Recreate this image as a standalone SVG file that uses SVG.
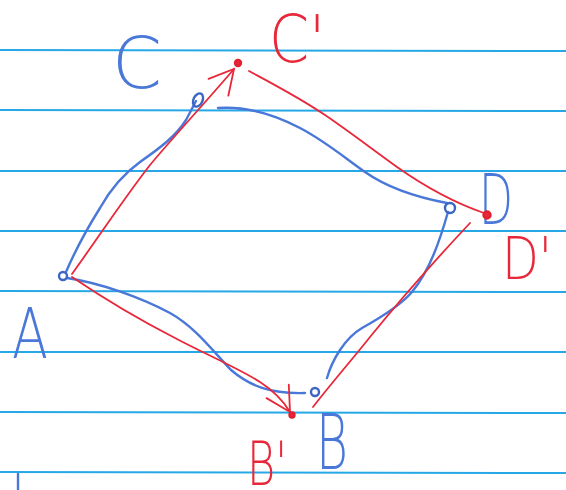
<svg xmlns="http://www.w3.org/2000/svg" width="566" height="490" viewBox="0 0 566 490">
<style>
.rule{stroke:#27a8e6;stroke-width:2;fill:none}
.b{stroke:#4a78d8;stroke-width:2.4;fill:none;stroke-linecap:round;stroke-linejoin:round}
.r{stroke:#e8283a;stroke-width:1.8;fill:none;stroke-linecap:round;stroke-linejoin:round}
.lb{fill:#4a78d8;font-family:"DejaVu Sans","Liberation Sans",sans-serif;font-weight:200;text-anchor:middle}
.lr{fill:#e8283a;font-family:"DejaVu Sans","Liberation Sans",sans-serif;font-weight:200;text-anchor:middle}
.nb{stroke:#3d66c4;stroke-width:2.4;fill:none}
.nr{stroke:#e01f30;stroke-width:2.4;fill:#e8283a}
</style>
<defs>
<marker id="arr" markerUnits="userSpaceOnUse" markerWidth="40" markerHeight="40" refX="0" refY="0" viewBox="-30 -20 40 40" orient="auto">
<path d="M-24,-13 L0,0 L-24,13" fill="none" stroke="#e8283a" stroke-width="1.8" stroke-linecap="round"/>
</marker>
</defs>
<rect width="566" height="490" fill="#ffffff"/>
<g id="paper">
<line class="rule" x1="0" y1="50" x2="566" y2="51"/>
<line class="rule" x1="0" y1="110" x2="566" y2="111"/>
<line class="rule" x1="0" y1="171" x2="566" y2="171"/>
<line class="rule" x1="0" y1="231" x2="566" y2="231"/>
<line class="rule" x1="0" y1="291" x2="566" y2="292"/>
<line class="rule" x1="0" y1="352" x2="566" y2="352"/>
<line class="rule" x1="0" y1="412" x2="566" y2="413"/>
<line class="rule" x1="0" y1="472" x2="566" y2="473"/>
<path class="b" d="M18,474 L18,490"/>
</g>
<g id="connectors">
<path class="b" d="M66,272 C72,258 85,232 100,208 C110,190 122,175 140,162 C160,148 176,136 186,120 L196,101"/>
<path class="r" d="M72,274 C100,235 125,197 150,165 C175,135 205,103 234,69" marker-end="url(#arr)"/>
<path class="b" d="M218,108 C245,106 275,115 300,128 C325,141 345,158 365,172 C385,186 415,197 447,203"/>
<path class="r" d="M249,71 C275,85 300,98 325,115 C350,132 372,149 397,167 C424,186 455,203 484,213"/>
<path class="b" d="M448,212 C440,240 430,270 412,292 C400,306 380,318 362,328 C345,338 332,360 327,378"/>
<path class="r" d="M470,223 C440,255 400,300 370,337 C355,356 330,385 313,407"/>
<path class="b" d="M67,278 C100,283 140,297 170,313 C195,327 212,350 231,370 C250,386 270,394 305,393"/>
<path class="r" d="M72,277 C100,296 140,320 175,338 C205,354 238,368 260,382 C274,391 284,402 290,412" marker-end="url(#arr)"/>
</g>
<g id="A">
<circle class="nb" cx="63" cy="276" r="4"/>
<text class="lb" x="30" y="358" font-size="70" textLength="36" lengthAdjust="spacingAndGlyphs">A</text>
</g>
<g id="B">
<circle class="nb" cx="315" cy="392" r="4" fill="#2f55a8"/>
<text class="lb" x="332" y="469" font-size="76" textLength="32" lengthAdjust="spacingAndGlyphs">B</text>
</g>
<g id="C">
<ellipse class="nb" cx="198" cy="100" rx="4.5" ry="7" transform="rotate(25 198 100)"/>
<text class="lb" x="137" y="88" font-size="72" textLength="50" lengthAdjust="spacingAndGlyphs">C</text>
</g>
<g id="D">
<circle class="nb" cx="450" cy="208" r="5"/>
<text class="lb" x="496" y="224" font-size="70" textLength="34" lengthAdjust="spacingAndGlyphs">D</text>
</g>
<g id="B-prime">
<circle class="nr" cx="292" cy="415" r="2.5"/>
<text class="lr" x="267" y="485" font-size="60" textLength="40" lengthAdjust="spacingAndGlyphs">B'</text>
</g>
<g id="C-prime">
<circle class="nr" cx="238" cy="63" r="3"/>
<text class="lr" x="297" y="62" font-size="66" textLength="56" lengthAdjust="spacingAndGlyphs">C'</text>
</g>
<g id="D-prime">
<circle class="nr" cx="487" cy="215" r="3.5"/>
<text class="lr" x="527" y="279" font-size="58" textLength="50" lengthAdjust="spacingAndGlyphs">D'</text>
</g>
</svg>
